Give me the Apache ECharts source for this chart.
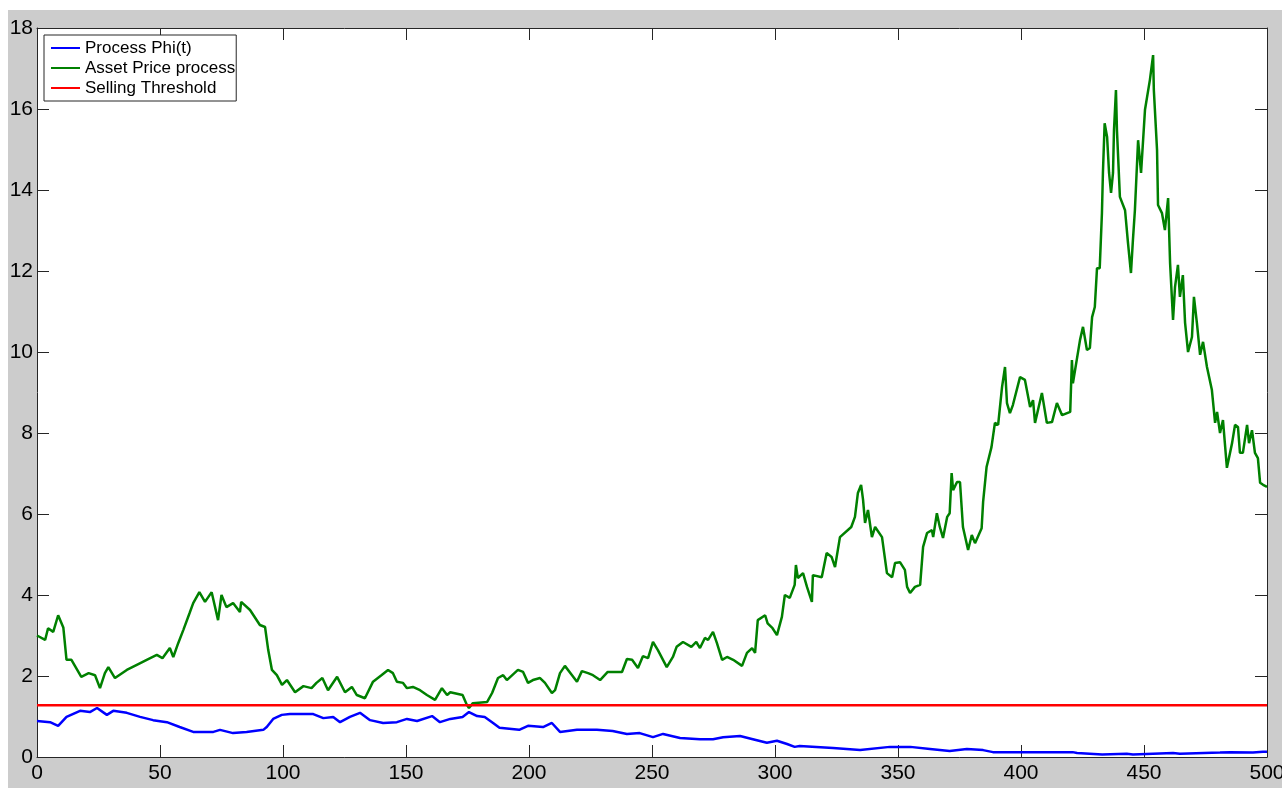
<!DOCTYPE html>
<html lang="en">
<head>
  <meta charset="utf-8">
  <script src="https://cdn.jsdelivr.net/npm/echarts@6/dist/echarts.min.js"></script>
  <style>
    html, body { margin: 0; padding: 0; background: #ffffff; overflow: hidden; }
    #container { position: absolute; left: 8px; top: 10px; width: 1274px; height: 778px; background: #cccccc; }
  </style>
</head>
<body>
<div id="container"></div>
<script type="text/javascript">

// values: [t, value]
var phiProcess = [
  [0,0.89],[5.3,0.86],[8.6,0.77],[12,0.99],[17.5,1.14],[21.5,1.11],[24.4,1.21],[25.2,1.23],
  [28.4,1.04],[31,1.14],[36.5,1.09],[41.9,0.99],[47.2,0.91],[52.8,0.86],[58,0.74],[63.5,0.62],
  [71.7,0.62],[74.4,0.67],[79.7,0.59],[85.2,0.62],[92,0.67],[93.4,0.74],[96,0.94],[99.5,1.04],
  [102.8,1.06],[112.3,1.06],[116.4,0.96],[120.4,0.99],[123.2,0.86],[127.2,0.99],[131.3,1.09],
  [135.4,0.91],[140.7,0.84],[146.3,0.86],[150.4,0.94],[154.5,0.89],[160.6,1.01],[163.8,0.86],
  [168,0.94],[173,0.99],[175.6,1.11],[178.9,1.01],[182,0.99],[185.4,0.84],[188,0.72],[196,0.67],
  [199.6,0.77],[205.7,0.74],[209.3,0.84],[212.6,0.62],[219.5,0.67],[227.6,0.67],[234,0.64],
  [239.8,0.57],[245,0.59],[250.4,0.49],[254.5,0.57],[261.4,0.47],[269.5,0.44],[274.8,0.44],
  [278.9,0.49],[285.8,0.52],[291,0.44],[296.7,0.35],[300.8,0.40],[304.9,0.32],[308,0.25],
  [310,0.27],[323.6,0.22],[334.6,0.17],[346.7,0.25],[355,0.25],[363,0.20],[371,0.15],[378,0.20],
  [384.6,0.17],[388.6,0.12],[421,0.12],[422.8,0.10],[433,0.06],[443,0.08],[445.5,0.06],
  [461.8,0.10],[464.6,0.08],[480.9,0.11],[485,0.12],[494.3,0.11],[498.4,0.13],[500,0.13]
];

var assetPrice = [
  [0,3.0],[3.3,2.89],[4.5,3.18],[6.6,3.09],[8.6,3.5],[10.7,3.2],[12,2.4],[14,2.4],[18,1.98],
  [21,2.07],[23.6,2.02],[25.6,1.70],[27.6,2.07],[29,2.22],[31.7,1.95],[36.5,2.15],[42,2.32],
  [44.6,2.40],[48.7,2.52],[51,2.44],[54,2.69],[55.4,2.47],[57.4,2.81],[59.5,3.14],[62,3.55],
  [63.5,3.80],[66,4.07],[68.3,3.83],[71,4.07],[73.6,3.38],[75,4.0],[77,3.7],[79.7,3.8],
  [82.5,3.58],[83,3.83],[86.6,3.63],[90.6,3.26],[92.7,3.21],[94,2.64],[95.5,2.15],[97.5,2.02],
  [99.6,1.78],[101.6,1.90],[104.9,1.60],[108.3,1.75],[111.6,1.70],[113.6,1.83],[116,1.95],
  [118.3,1.65],[122,1.98],[125.2,1.60],[128,1.73],[130,1.53],[133.3,1.45],[136.6,1.86],
  [140,2.02],[142.7,2.15],[144.7,2.07],[146.3,1.86],[148.8,1.83],[150.4,1.70],[152.8,1.73],
  [155.7,1.65],[158.5,1.53],[161.8,1.41],[164.6,1.70],[166.7,1.53],[168,1.60],[173,1.53],
  [174.8,1.28],[175.6,1.21],[177.2,1.33],[183,1.36],[185,1.58],[187.4,1.95],[189.5,2.02],
  [191,1.90],[195.5,2.15],[197.6,2.10],[199.6,1.83],[201.6,1.90],[204.5,1.95],[206.5,1.83],
  [209.3,1.58],[210.6,1.65],[212.6,2.07],[214.6,2.25],[217.5,2.02],[219.5,1.86],[221.5,2.12],
  [224,2.07],[226,2.02],[228.9,1.90],[232,2.10],[237.8,2.10],[239.8,2.42],[241.9,2.40],
  [244.3,2.20],[246.3,2.49],[248.4,2.44],[250.4,2.84],[252.4,2.64],[256,2.22],[258.5,2.47],
  [260,2.72],[262.6,2.84],[266,2.72],[268,2.84],[269.5,2.69],[271.5,2.94],[272.8,2.89],
  [274.8,3.09],[276.4,2.81],[278.5,2.40],[280.5,2.47],[283,2.40],[286.6,2.25],[288.6,2.57],
  [290.7,2.69],[291.9,2.57],[293,3.38],[296,3.5],[297,3.3],[299,3.18],[300.8,3.01],[302.8,3.46],
  [304,4.0],[306,3.93],[308,4.25],[308.5,4.74],[309.3,4.42],[311.4,4.54],[313,4.2],[315,3.83],
  [315.4,4.49],[319,4.44],[321,5.04],[323,4.94],[324.4,4.69],[326.4,5.43],[331,5.68],
  [332.5,5.93],[333.7,6.52],[335,6.72],[335.8,6.35],[336.6,5.78],[337.8,6.1],[339.4,5.43],
  [340.7,5.68],[343.5,5.43],[345.5,4.54],[347.6,4.44],[348.8,4.79],[350.8,4.81],[352.8,4.62],
  [353.7,4.2],[354.9,4.05],[356.9,4.2],[359,4.25],[360.2,5.19],[361.8,5.53],[363.8,5.6],
  [364.3,5.43],[365.8,6.02],[367,5.68],[368.3,5.41],[370,5.93],[371,6.02],[371.8,7.01],
  [372.4,6.59],[374,6.79],[375.2,6.79],[376.4,5.68],[378.5,5.11],[380,5.48],[381.3,5.28],
  [384,5.65],[384.6,6.3],[386,7.16],[388,7.65],[389.4,8.25],[390.7,8.2],[392.3,9.14],
  [393.5,9.63],[394.3,8.74],[395.5,8.49],[396.7,8.69],[399.6,9.38],[401.6,9.31],[403.7,8.64],
  [404.9,8.81],[405.7,8.25],[408.5,8.99],[410.5,8.25],[412.6,8.27],[414.6,8.74],[416.7,8.44],
  [420,8.52],[420.7,9.80],[421.1,9.23],[424,10.30],[425.2,10.62],[426.8,10.05],[428,10.1],
  [428.9,10.86],[430,11.11],[430.9,12.07],[432,12.07],[432.9,13.43],[433.3,14.42],[434,15.65],
  [435,15.31],[435.8,14.42],[436.6,13.93],[437.4,14.42],[437.8,15.48],[438.6,16.47],[439,15.48],
  [440.2,13.83],[442.3,13.5],[443.5,12.69],[444.7,11.95],[445.5,12.77],[446.3,13.5],
  [447.6,15.23],[448.8,14.42],[450.4,15.98],[452.4,16.72],[453.7,17.33],[454,16.47],
  [455.3,14.99],[455.7,13.63],[457.3,13.43],[458.5,13.01],[459.8,13.8],[460.6,12.2],
  [461.8,10.79],[462.6,11.6],[463.8,12.15],[464.6,11.36],[465.8,11.9],[466.7,10.72],
  [467.9,10.0],[469.5,10.37],[470.3,11.36],[471.5,10.72],[472.8,9.93],[474,10.25],[475.6,9.63],
  [477.6,9.06],[478.9,8.25],[479.7,8.52],[480.9,8.0],[482.1,8.32],[483.7,7.14],[485.8,7.75],
  [487,8.2],[488.2,8.15],[489,7.51],[490.2,7.51],[491.9,8.2],[492.7,7.75],[493.9,8.07],
  [495.1,7.51],[496.3,7.38],[497.2,6.77],[498.4,6.72],[500,6.67]
];

var sellingThreshold = 1.28;
var tRange = [0, 500];
var seriesNames = ['Process Phi(t)', 'Asset Price process', 'Selling Threshold'];

var FONT = '"Liberation Sans", Arial, Helvetica, sans-serif';

var dom = document.getElementById('container');
var myChart = echarts.init(dom, null, { renderer: 'canvas' });

function axisBase(pos, min, max, step, showLabel, gap) {
  return {
    type: 'value',
    position: pos,
    min: min,
    max: max,
    interval: step,
    splitLine: { show: false },
    axisLine: { show: true, onZero: false, lineStyle: { color: '#262626', width: 1 } },
    axisTick: { show: true, inside: true, length: 12, lineStyle: { color: '#262626', width: 1 } },
    axisLabel: {
      show: showLabel,
      color: '#000',
      fontSize: 21,
      fontFamily: FONT,
      margin: gap
    }
  };
}

var option = {
  backgroundColor: '#cccccc',
  animation: false,
  grid: {
    left: 29, right: 15, top: 18, bottom: 31,
    outerBoundsMode: 'none',
    containLabel: false,
    show: true, backgroundColor: '#ffffff', borderWidth: 0
  },
  legend: {
    left: 36,
    top: 25,
    orient: 'vertical',
    data: seriesNames,
    icon: 'rect',
    padding: [3, 1, 3, 7],
    itemWidth: 29,
    itemHeight: 2,
    itemGap: 0,
    backgroundColor: '#ffffff',
    borderColor: '#262626',
    borderWidth: 1,
    borderRadius: 0,
    textStyle: { fontSize: 17, lineHeight: 20, color: '#000', fontFamily: FONT }
  },
  xAxis: [
    axisBase('bottom', tRange[0], tRange[1], 50, true, 6),
    axisBase('top', tRange[0], tRange[1], 50, false, 6)
  ],
  yAxis: [
    axisBase('left', 0, 18, 2, true, 4),
    axisBase('right', 0, 18, 2, false, 4)
  ],
  series: [
    {
      name: seriesNames[0],
      type: 'line',
      data: phiProcess,
      showSymbol: false,
      symbol: 'none',
      color: '#0000ff',
      lineStyle: { width: 2.5, color: '#0000ff' }
    },
    {
      name: seriesNames[1],
      type: 'line',
      data: assetPrice,
      showSymbol: false,
      symbol: 'none',
      color: '#008000',
      lineStyle: { width: 2.5, color: '#008000' }
    },
    {
      name: seriesNames[2],
      type: 'line',
      data: [[tRange[0], sellingThreshold], [tRange[1], sellingThreshold]],
      showSymbol: false,
      symbol: 'none',
      color: '#ff0000',
      lineStyle: { width: 2.5, color: '#ff0000' }
    }
  ]
};

myChart.setOption(option);

</script>
</body>
</html>
